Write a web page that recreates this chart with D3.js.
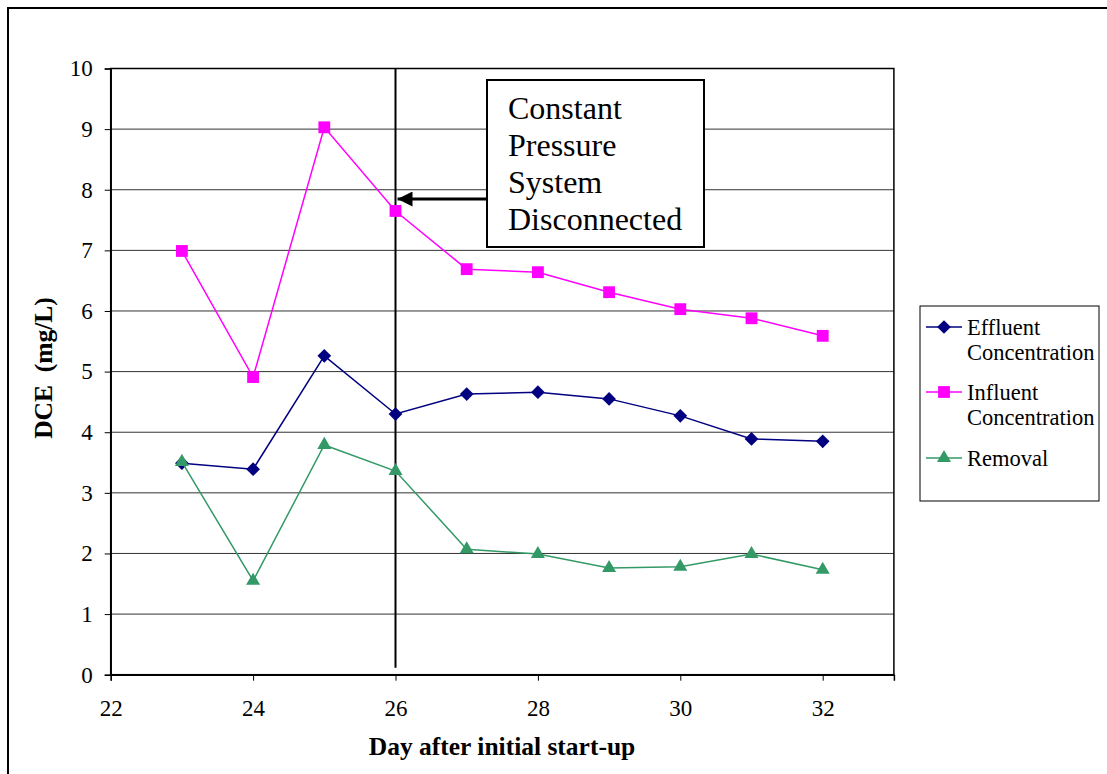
<!DOCTYPE html>
<html>
<head>
<meta charset="utf-8">
<script src="https://cdn.jsdelivr.net/npm/d3@7.9.0/dist/d3.min.js"></script>
<style>
  body { margin: 0; background: #fff; }
  svg { display: block; font-family: "Liberation Serif", "Times New Roman", serif; }
</style>
</head>
<body>
<svg id="chart" width="1107" height="774"></svg>
<script>
// data
const days = [23, 24, 25, 26, 27, 28, 29, 30, 31, 32];
const effluent = [3.49, 3.39, 5.26, 4.30, 4.63, 4.66, 4.55, 4.27, 3.89, 3.85];
const influent = [6.99, 4.91, 9.03, 7.65, 6.69, 6.64, 6.31, 6.03, 5.88, 5.59];
const removal = [3.51, 1.55, 3.79, 3.36, 2.07, 1.99, 1.76, 1.78, 1.99, 1.73];
const xTicks = [22, 24, 26, 28, 30, 32];
const yTicks = [0, 1, 2, 3, 4, 5, 6, 7, 8, 9, 10];
const noteLines = ["Constant", "Pressure", "System", "Disconnected"];
const cutoffDay = 26;

const series = [
  { name: ["Effluent", "Concentration"], values: effluent, color: "#000080", symbol: d3.symbolDiamond2, size: 120 },
  { name: ["Influent", "Concentration"], values: influent, color: "#ff00ff", symbol: d3.symbolSquare, size: 140 },
  { name: ["Removal"], values: removal, color: "#339966", symbol: d3.symbolTriangle, size: 85 }
];

const svg = d3.select("#chart");

// outer frame (runs off the right and bottom edges)
svg.append("rect")
  .attr("x", 8).attr("y", 8)
  .attr("width", 1120).attr("height", 800)
  .attr("fill", "none").attr("stroke", "#000").attr("stroke-width", 2);

const x = d3.scaleLinear().domain([22, 33]).range([110.7, 893.9]);
const y = d3.scaleLinear().domain([0, 10]).range([674.7, 68.5]);

// gridlines
svg.append("g")
  .selectAll("line")
  .data(yTicks.filter(d => d > 0 && d < 10))
  .join("line")
  .attr("x1", x(22)).attr("x2", x(33))
  .attr("y1", d => y(d)).attr("y2", d => y(d))
  .attr("stroke", "#333").attr("stroke-width", 1);

// plot border
svg.append("rect")
  .attr("x", x(22)).attr("y", y(10))
  .attr("width", x(33) - x(22)).attr("height", y(0) - y(10))
  .attr("fill", "none").attr("stroke", "#000").attr("stroke-width", 1.5);

// axes
const yAxis = svg.append("g")
  .attr("transform", `translate(${x(22)},0)`)
  .call(d3.axisLeft(y).tickValues(yTicks).tickSize(6).tickPadding(12));
const xAxis = svg.append("g")
  .attr("transform", `translate(0,${y(0)})`)
  .call(d3.axisBottom(x).tickValues(xTicks).tickSize(6).tickPadding(19));

[yAxis, xAxis].forEach(g => {
  g.attr("font-family", null).attr("font-size", null);
  g.select(".domain").attr("stroke", "#000").attr("stroke-width", 1.5);
  g.selectAll(".tick line").attr("stroke", "#000");
  g.selectAll(".tick text")
    .attr("font-size", 23).attr("fill", "#000");
});

// vertical marker line
svg.append("line")
  .attr("x1", x(cutoffDay)).attr("x2", x(cutoffDay))
  .attr("y1", y(10)).attr("y2", y(0) - 7)
  .attr("stroke", "#000").attr("stroke-width", 2);

// series
const line = d3.line().x((d, i) => x(days[i])).y(d => y(d));
series.forEach(s => {
  svg.append("path")
    .datum(s.values)
    .attr("d", line)
    .attr("fill", "none")
    .attr("stroke", s.color)
    .attr("stroke-width", 1.5);
  svg.append("g")
    .selectAll("path")
    .data(s.values)
    .join("path")
    .attr("transform", (d, i) => `translate(${x(days[i])},${y(d)})`)
    .attr("d", d3.symbol().type(s.symbol).size(s.size))
    .attr("fill", s.color);
});

// annotation box with arrow
const note = svg.append("g");
note.append("rect")
  .attr("x", 487).attr("y", 80).attr("width", 217).attr("height", 167)
  .attr("fill", "#fff").attr("stroke", "#000").attr("stroke-width", 2);
note.selectAll("text")
  .data(noteLines)
  .join("text")
  .attr("x", 508)
  .attr("y", (d, i) => 119 + i * 37)
  .attr("font-size", 32)
  .text(d => d);

svg.append("defs").append("marker")
  .attr("id", "arrow")
  .attr("viewBox", "0 0 10 10")
  .attr("refX", 10).attr("refY", 5)
  .attr("markerWidth", 5).attr("markerHeight", 5)
  .attr("orient", "auto")
  .append("path").attr("d", "M0,0L10,5L0,10Z").attr("fill", "#000");
svg.append("line")
  .attr("x1", 487).attr("y1", 199)
  .attr("x2", x(cutoffDay) + 2).attr("y2", 199)
  .attr("stroke", "#000").attr("stroke-width", 3)
  .attr("marker-end", "url(#arrow)");

// axis titles
svg.append("text")
  .attr("x", 502).attr("y", 755)
  .attr("text-anchor", "middle")
  .attr("font-size", 25.5).attr("font-weight", "bold")
  .text("Day after initial start-up");
svg.append("text")
  .attr("transform", "translate(52,368) rotate(-90)")
  .attr("text-anchor", "middle")
  .attr("font-size", 25.5).attr("font-weight", "bold")
  .style("white-space", "pre")
  .text("DCE  (mg/L)");

// legend
const legend = svg.append("g");
legend.append("rect")
  .attr("x", 920).attr("y", 306).attr("width", 179).attr("height", 195)
  .attr("fill", "#fff").attr("stroke", "#000").attr("stroke-width", 1);
const legendY = [327, 392, 458];
series.forEach((s, i) => {
  const ly = legendY[i];
  legend.append("line")
    .attr("x1", 926).attr("x2", 962).attr("y1", ly).attr("y2", ly)
    .attr("stroke", s.color).attr("stroke-width", 1.5);
  legend.append("path")
    .attr("transform", `translate(944,${ly})`)
    .attr("d", d3.symbol().type(s.symbol).size(s.size))
    .attr("fill", s.color);
  s.name.forEach((t, j) => {
    legend.append("text")
      .attr("x", 967).attr("y", ly + 8 + j * 25)
      .attr("font-size", 22.5)
      .text(t);
  });
});
</script>
</body>
</html>
